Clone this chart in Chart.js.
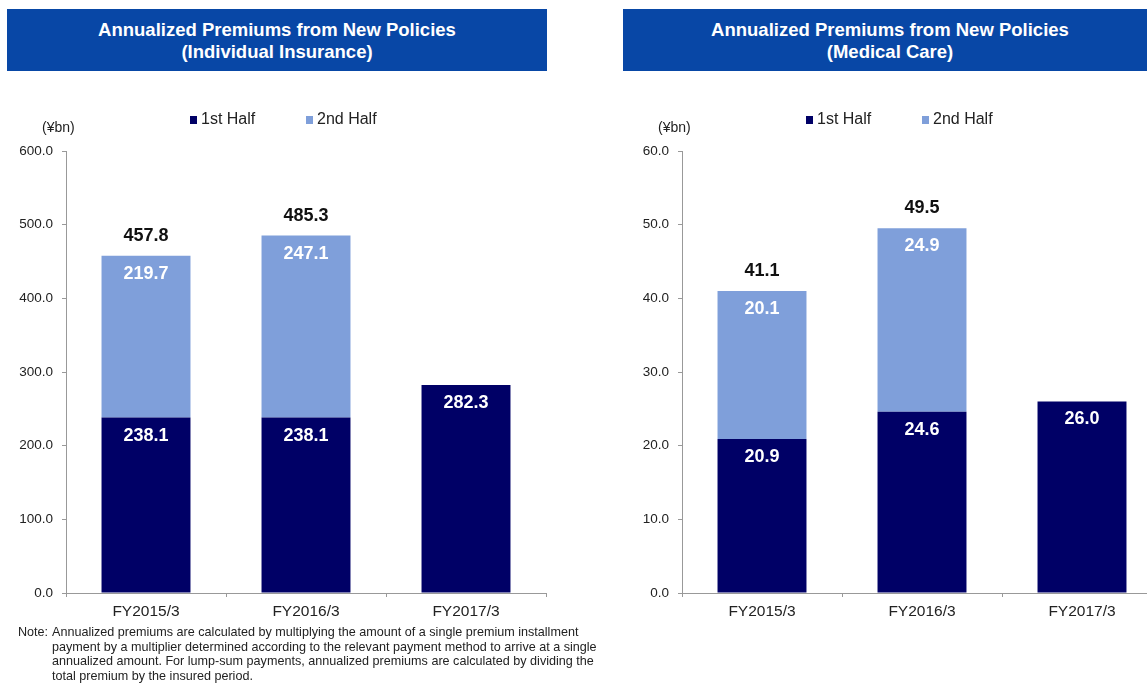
<!DOCTYPE html>
<html>
<head>
<meta charset="utf-8">
<script src="https://cdn.jsdelivr.net/npm/chart.js@4/dist/chart.umd.min.js"></script>
<style>
  html, body { margin: 0; padding: 0; background: #fff; width: 1147px; height: 684px; overflow: hidden; position: relative; font-family: "Liberation Sans", Arial, sans-serif; }
  .banner { position: absolute; top: 9px; height: 62px; background: #0847A6; color: #fff; font-weight: bold; font-size: 18.5px; line-height: 22px; text-align: center; display: flex; flex-direction: column; justify-content: center; padding-top: 2px; box-sizing: border-box; }
  .box { position: absolute; top: 90px; width: 560px; height: 540px; }
  .note { position: absolute; left: 18px; top: 625px; font-size: 12.6px; line-height: 14.5px; color: #222; }
  .note .row { display: flex; }
  .note .lbl { width: 34px; flex: none; }
</style>
</head>
<body>
<div class="banner" style="left:7px; width:540px;"><div>Annualized Premiums from New Policies</div><div>(Individual Insurance)</div></div>
<div class="banner" style="left:623px; width:534px;"><div>Annualized Premiums from New Policies</div><div>(Medical Care)</div></div>

<div class="box" style="left:0px;"><canvas id="c1" width="560" height="540"></canvas></div>
<div class="box" style="left:616px;"><canvas id="c2" width="560" height="540"></canvas></div>

<div class="note">
  <div class="row"><span class="lbl">Note:</span><span>Annualized premiums are calculated by multiplying the amount of a single premium installment<br>payment by a multiplier determined according to the relevant payment method to arrive at a single<br>annualized amount. For lump-sum payments, annualized premiums are calculated by dividing the<br>total premium by the insured period.</span></div>
</div>

<script>
// Fiscal years on the x axis
const categories = ['FY2015/3', 'FY2016/3', 'FY2017/3'];
const seriesNames = ['1st Half', '2nd Half'];

// Individual insurance (¥bn)
const indFirstHalf  = [238.1, 238.1, 282.3];
const indSecondHalf = [219.7, 247.1, null];
const indTotals     = [457.8, 485.3, null];

// Medical care (¥bn)
const medFirstHalf  = [20.9, 24.6, 26.0];
const medSecondHalf = [20.1, 24.9, null];
const medTotals     = [41.1, 49.5, null];

const DARK = '#000066';
const LIGHT = '#7F9FDA';
const FONT = '"Liberation Sans", Arial, sans-serif';

// Writes segment values inside the bars, totals above, the unit and the legend
const annotate = {
  id: 'annotate',
  afterDatasetsDraw(chart) {
    const ctx = chart.ctx;
    const totals = chart.options.plugins.annotate.totals;
    ctx.save();
    ctx.textAlign = 'center';
    ctx.textBaseline = 'middle';
    ctx.font = 'bold 18px ' + FONT;
    chart.data.datasets.forEach((ds, di) => {
      const meta = chart.getDatasetMeta(di);
      meta.data.forEach((bar, i) => {
        const v = ds.data[i];
        if (v == null) return;
        ctx.fillStyle = '#ffffff';
        ctx.fillText(v.toFixed(1), bar.x, bar.y + 18);
      });
    });
    ctx.fillStyle = '#111';
    totals.forEach((t, i) => {
      if (t == null) return;
      const metaTop = chart.getDatasetMeta(1).data[i];
      ctx.fillText(t.toFixed(1), metaTop.x, metaTop.y - 20);
    });
    // unit label
    ctx.font = '14px ' + FONT;
    ctx.textAlign = 'left';
    ctx.fillStyle = '#222';
    ctx.fillText('(¥bn)', 42, 38);
    // legend
    const lx = [190, 306];
    ctx.font = '16px ' + FONT;
    chart.data.datasets.forEach((ds, di) => {
      ctx.fillStyle = ds.backgroundColor;
      ctx.fillRect(lx[di], 26, 7, 8);
      ctx.fillStyle = '#222';
      ctx.fillText(ds.label, lx[di] + 11, 30);
    });
    ctx.restore();
  }
};

function makeChart(id, first, second, totals, maxY, step) {
  return new Chart(document.getElementById(id), {
    type: 'bar',
    data: {
      labels: categories,
      datasets: [
        { label: seriesNames[0], data: first, backgroundColor: DARK, categoryPercentage: 1, barPercentage: 0.556 },
        { label: seriesNames[1], data: second, backgroundColor: LIGHT, categoryPercentage: 1, barPercentage: 0.556 }
      ]
    },
    options: {
      responsive: false,
      animation: false,
      events: [],
      layout: { padding: { top: 61, left: 0, right: 14, bottom: 0 } },
      plugins: {
        legend: { display: false },
        tooltip: { enabled: false },
        annotate: { totals: totals }
      },
      scales: {
        x: {
          stacked: true,
          afterFit(s) { s.height = 37; },
          grid: { drawOnChartArea: false, tickLength: 4, color: '#999' },
          border: { color: '#999' },
          ticks: { color: '#222', font: { family: FONT, size: 15.5 }, padding: 5 }
        },
        y: {
          stacked: true,
          min: 0, max: maxY,
          afterFit(s) { s.width = 66; },
          grid: { drawOnChartArea: false, tickLength: 4, color: '#999' },
          border: { color: '#999' },
          ticks: { stepSize: step, color: '#222', font: { family: FONT, size: 13.5 }, padding: 9,
                   callback: v => v.toFixed(1) }
        }
      }
    },
    plugins: [annotate]
  });
}

makeChart('c1', indFirstHalf, indSecondHalf, indTotals, 600, 100);
makeChart('c2', medFirstHalf, medSecondHalf, medTotals, 60, 10);
</script>
</body>
</html>
